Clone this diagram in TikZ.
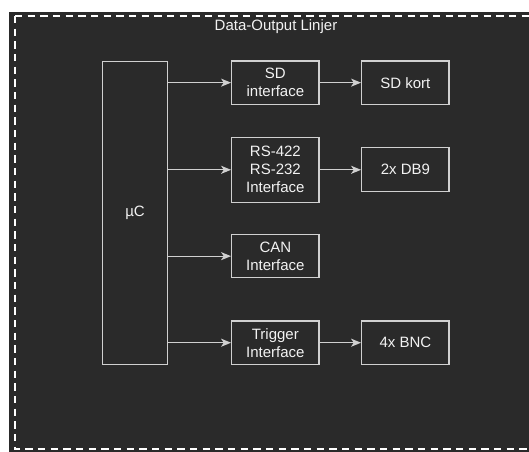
\documentclass[tikz,border=0pt]{standalone}
\usepackage{fontspec}
\setmainfont{Liberation Sans}
\usetikzlibrary{arrows.meta}
\definecolor{bgdark}{HTML}{2A2A2A}
\definecolor{lnc}{HTML}{D0D0D0}
\definecolor{txc}{HTML}{F2F2F2}
\begin{document}
\begin{tikzpicture}[x=0.75pt,y=-0.75pt,
  box/.style={draw=lnc, line width=0.9pt, text=txc, align=center, inner sep=0pt,
    font=\fontsize{11.25}{13.5}\selectfont, minimum width=65.5pt, minimum height=32.5pt},
  arr/.style={draw=lnc, line width=0.9pt, -{Stealth[length=7.5pt, width=6pt, inset=2pt]}},
  border/.style={draw=white, line width=1.5pt, dash pattern=on 5.5pt off 4pt}]
\useasboundingbox (0,0) rectangle (529,451);
\clip (0,0) rectangle (529,451);
\fill[white] (0,0) rectangle (529,451);
\fill[bgdark] (9,12) rectangle (540,460);
\draw[border] (15,16) -- (540,16);
\draw[border] (15,16) -- (15,449) -- (540,449);
\node[text=txc, font=\fontsize{11.25}{13.5}\selectfont] (title) at (276,27) {Data-Output Linjer};
\node[box, minimum width=49pt, minimum height=227.3pt] (mu) at (135,212.7) {µC};
\node[box] (sdi) at (275.35,82.65) {SD\\interface};
\node[box] (sdk) at (405.35,82.65) {SD kort};
\node[box, minimum height=48.75pt] (rs) at (275.35,169.8) {RS-422\\RS-232\\Interface};
\node[box] (db) at (405.35,169.5) {2x DB9};
\node[box] (can) at (275.35,256.15) {CAN\\Interface};
\node[box] (trg) at (275.35,342.7) {Trigger\\Interface};
\node[box] (bnc) at (405.35,342.7) {4x BNC};
\draw[arr] (mu.east |- sdi) -- (sdi.west);
\draw[arr] (mu.east |- rs) -- (rs.west);
\draw[arr] (mu.east |- can) -- (can.west);
\draw[arr] (mu.east |- trg) -- (trg.west);
\draw[arr] (sdi) -- (sdk);
\draw[arr] (rs.east) -- (rs.east -| db.west);
\draw[arr] (trg) -- (bnc);
\end{tikzpicture}
\end{document}
